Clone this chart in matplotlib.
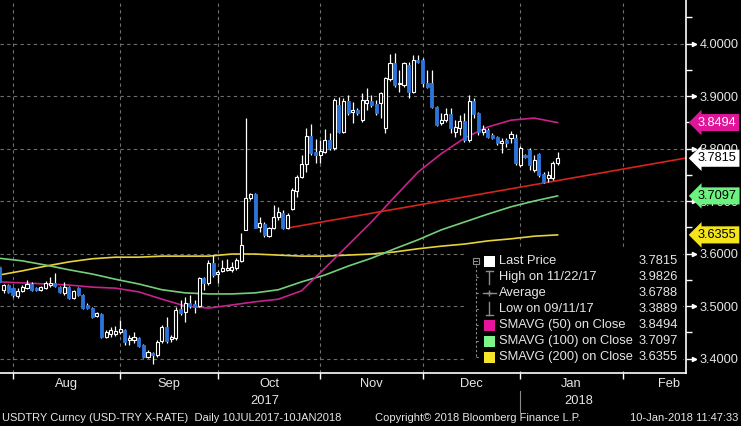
#!/usr/bin/env python3
"""USDTRY daily candles with SMAs, Bloomberg-style dark chart -> out.png"""

import numpy as np
import matplotlib
matplotlib.use("Agg")
import matplotlib.pyplot as plt
from matplotlib.patches import Rectangle
from matplotlib.lines import Line2D
from matplotlib.ticker import FormatStrFormatter, MultipleLocator
from matplotlib.transforms import blended_transform_factory

plt.rcParams["font.family"] = ["Liberation Sans", "DejaVu Sans"]

W, H = 741, 426

# daily OHLC, one entry per session
opens = [
    3.574, 3.531, 3.540, 3.534, 3.519, 3.529, 3.534, 3.542, 3.534, 3.531,
    3.534, 3.540, 3.544, 3.536, 3.525, 3.536, 3.515, 3.534, 3.521, 3.502,
    3.496, 3.481, 3.485, 3.441, 3.447, 3.447, 3.451, 3.454, 3.435, 3.435,
    3.439, 3.426, 3.403, 3.411, 3.407, 3.433, 3.460, 3.437, 3.439, 3.494,
    3.489, 3.506, 3.504, 3.500, 3.553, 3.544, 3.582, 3.561, 3.567, 3.569,
    3.569, 3.572, 3.586, 3.645, 3.706, 3.713, 3.651, 3.656, 3.633, 3.649,
    3.670, 3.677, 3.649, 3.685, 3.719, 3.746, 3.771, 3.824, 3.793, 3.788,
    3.793, 3.816, 3.801, 3.883, 3.832, 3.891, 3.870, 3.873, 3.854, 3.887,
    3.891, 3.885, 3.887, 3.839, 3.932, 3.963, 3.923, 3.921, 3.959, 3.908,
    3.969, 3.969, 3.925, 3.925, 3.879, 3.849, 3.854, 3.866, 3.832, 3.839,
    3.852, 3.816, 3.891, 3.868, 3.832, 3.835, 3.826, 3.822, 3.811, 3.816,
    3.820, 3.820, 3.769, 3.788, 3.797, 3.759, 3.790, 3.752, 3.744, 3.744,
    3.772,
]
highs = [
    3.578, 3.542, 3.542, 3.536, 3.534, 3.540, 3.550, 3.546, 3.536, 3.538,
    3.548, 3.555, 3.563, 3.538, 3.546, 3.538, 3.531, 3.536, 3.523, 3.506,
    3.498, 3.489, 3.487, 3.454, 3.460, 3.462, 3.473, 3.456, 3.445, 3.451,
    3.441, 3.428, 3.416, 3.412, 3.435, 3.464, 3.479, 3.445, 3.498, 3.512,
    3.517, 3.521, 3.512, 3.555, 3.555, 3.588, 3.597, 3.569, 3.588, 3.590,
    3.584, 3.592, 3.639, 3.858, 3.715, 3.715, 3.670, 3.660, 3.651, 3.692,
    3.689, 3.683, 3.677, 3.725, 3.750, 3.788, 3.839, 3.847, 3.818, 3.816,
    3.837, 3.830, 3.896, 3.898, 3.896, 3.902, 3.889, 3.877, 3.906, 3.915,
    3.902, 3.892, 3.908, 3.936, 3.980, 3.9826, 3.950, 3.965, 3.965, 3.978,
    3.978, 3.972, 3.950, 3.950, 3.881, 3.868, 3.877, 3.877, 3.854, 3.864,
    3.868, 3.902, 3.896, 3.870, 3.845, 3.839, 3.830, 3.824, 3.820, 3.820,
    3.833, 3.828, 3.805, 3.790, 3.801, 3.788, 3.792, 3.755, 3.757, 3.776,
    3.793,
]
lows = [
    3.542, 3.525, 3.525, 3.517, 3.515, 3.527, 3.532, 3.529, 3.529, 3.529,
    3.532, 3.536, 3.536, 3.525, 3.521, 3.513, 3.513, 3.519, 3.494, 3.494,
    3.477, 3.479, 3.439, 3.439, 3.441, 3.443, 3.447, 3.426, 3.426, 3.430,
    3.422, 3.401, 3.401, 3.3889, 3.403, 3.430, 3.430, 3.432, 3.435, 3.483,
    3.470, 3.496, 3.487, 3.498, 3.531, 3.540, 3.555, 3.544, 3.565, 3.567,
    3.565, 3.569, 3.584, 3.645, 3.702, 3.649, 3.641, 3.632, 3.632, 3.647,
    3.664, 3.647, 3.647, 3.683, 3.708, 3.744, 3.755, 3.788, 3.772, 3.772,
    3.792, 3.797, 3.797, 3.830, 3.830, 3.864, 3.849, 3.864, 3.851, 3.873,
    3.879, 3.864, 3.858, 3.830, 3.929, 3.917, 3.908, 3.917, 3.896, 3.906,
    3.963, 3.917, 3.915, 3.877, 3.843, 3.845, 3.851, 3.830, 3.822, 3.826,
    3.812, 3.812, 3.858, 3.826, 3.826, 3.820, 3.818, 3.807, 3.792, 3.803,
    3.811, 3.769, 3.765, 3.782, 3.759, 3.755, 3.746, 3.734, 3.736, 3.740,
    3.769,
]
closes = [
    3.546, 3.540, 3.527, 3.521, 3.529, 3.536, 3.542, 3.531, 3.531, 3.536,
    3.544, 3.544, 3.538, 3.527, 3.536, 3.515, 3.529, 3.521, 3.496, 3.496,
    3.479, 3.487, 3.441, 3.451, 3.454, 3.452, 3.456, 3.432, 3.439, 3.441,
    3.424, 3.403, 3.412, 3.407, 3.432, 3.460, 3.433, 3.441, 3.492, 3.487,
    3.506, 3.500, 3.498, 3.553, 3.544, 3.582, 3.559, 3.565, 3.572, 3.572,
    3.574, 3.588, 3.616, 3.706, 3.713, 3.649, 3.658, 3.635, 3.649, 3.670,
    3.679, 3.649, 3.673, 3.721, 3.746, 3.771, 3.824, 3.792, 3.788, 3.795,
    3.816, 3.801, 3.892, 3.832, 3.891, 3.868, 3.873, 3.868, 3.892, 3.892,
    3.883, 3.868, 3.906, 3.934, 3.963, 3.921, 3.925, 3.963, 3.908, 3.969,
    3.965, 3.925, 3.917, 3.879, 3.845, 3.854, 3.866, 3.839, 3.841, 3.852,
    3.816, 3.891, 3.866, 3.832, 3.837, 3.822, 3.820, 3.811, 3.814, 3.811,
    3.828, 3.772, 3.801, 3.784, 3.769, 3.778, 3.750, 3.736, 3.750, 3.772,
    3.7815,
]

# moving averages, read every 5 sessions
ma_idx = list(range(0, 121, 5))
sma50 = [3.546, 3.544, 3.542, 3.540, 3.536, 3.534, 3.527, 3.513, 3.500, 3.496,
         3.502, 3.508, 3.513, 3.529, 3.572, 3.616, 3.660, 3.708, 3.755, 3.790,
         3.820, 3.841, 3.854, 3.858, 3.8494]
sma100 = [3.591, 3.586, 3.578, 3.569, 3.561, 3.551, 3.542, 3.531, 3.525, 3.523,
          3.523, 3.525, 3.531, 3.546, 3.559, 3.576, 3.591, 3.609, 3.626, 3.645,
          3.660, 3.675, 3.689, 3.700, 3.7097]
sma200 = [3.559, 3.567, 3.576, 3.584, 3.590, 3.593, 3.593, 3.595, 3.595, 3.595,
          3.599, 3.599, 3.597, 3.595, 3.595, 3.597, 3.599, 3.603, 3.609, 3.614,
          3.618, 3.624, 3.628, 3.633, 3.6355]

# hand-drawn trend line (session index, price)
trend_idx = [62, 147.6]
trend_val = [3.6486, 3.7819]

# last session of each month (Jul .. Feb) and labels between them
month_ends = [3, 26, 47, 69, 91, 112, 134, 154]
month_labels = ["Aug", "Sep", "Oct", "Nov", "Dec", "Jan", "Feb"]
year_labels = ["2017", "2018"]
year_pos = [57, 124.5]

legend_names = ["Last Price", "High on 11/22/17", "Average", "Low on 09/11/17",
                "SMAVG (50) on Close", "SMAVG (100) on Close", "SMAVG (200) on Close"]
legend_values = [3.7815, 3.9826, 3.6788, 3.3889, 3.8494, 3.7097, 3.6355]

BLUE = "#2d74da"
MAGENTA = "#c8218c"
GREEN = "#74cf7c"
YELLOW = "#e6d23c"
RED = "#d8221c"
GRID = "#6e6e6e"
TXT = "#e6e6e6"


def fx(px):
    return px / W


def fy(py):
    return 1 - py / H


fig = plt.figure(figsize=(W / 100, H / 100), dpi=100, facecolor="black")
ax = fig.add_axes([0, fy(373), fx(686), 373 / H])
ax.set_facecolor("black")

# grid + axes (limits after the ticks, set_xticks would widen them)
ax.set_xticks(month_ends)
ax.set_yticks(np.arange(3.4, 4.001, 0.1))
ax.yaxis.set_minor_locator(MultipleLocator(0.05))
ax.yaxis.set_major_formatter(FormatStrFormatter("%.4f"))
ax.set_xlim(0.2, 147.6)
ax.set_ylim(3.3724, 4.0829)
ax.grid(True, which="major", color=GRID, linestyle=(0, (3, 3)), linewidth=0.8)
ax.set_axisbelow(True)
for s in ["top", "left"]:
    ax.spines[s].set_visible(False)
for s in ["right", "bottom"]:
    ax.spines[s].set_color("white")
    ax.spines[s].set_linewidth(1.2)
ax.yaxis.tick_right()
ax.tick_params(axis="y", which="major", colors="white", labelcolor=TXT,
               labelsize=9.2, length=7, width=1, pad=3)
ax.tick_params(axis="y", which="minor", colors="white", length=4, width=1)
ax.tick_params(axis="x", colors="white", length=4, width=1, labelbottom=False)

# little arrow heads on the price ticks
tr_tick = blended_transform_factory(ax.transAxes, ax.transData)
yt = np.arange(3.4, 4.001, 0.1)
ax.plot(np.full(len(yt), 1 + 8 / 686), yt, ">", color="white", markersize=3,
        transform=tr_tick, clip_on=False, zorder=2)

# moving averages + trend
ax.plot(ma_idx, sma200, color=YELLOW, lw=1.2, zorder=2)
ax.plot(ma_idx, sma100, color=GREEN, lw=1.2, zorder=2)
ax.plot(ma_idx, sma50, color=MAGENTA, lw=1.2, zorder=2)
ax.plot(trend_idx, trend_val, color=RED, lw=1.2, zorder=2)

# candles
o, h, l, c = map(np.array, (opens, highs, lows, closes))
x = np.arange(len(o))
ax.vlines(x, l, h, colors="white", linewidth=0.9, zorder=3)
bw = 0.66
for xi, oi, ci in zip(x, o, c):
    if ci >= oi:
        ax.add_patch(Rectangle((xi - bw / 2, oi), bw, max(ci - oi, 0.0008),
                               facecolor="black", edgecolor="white", lw=0.8, zorder=4))
    else:
        ax.add_patch(Rectangle((xi - bw / 2, ci), bw, oi - ci,
                               facecolor=BLUE, edgecolor=BLUE, lw=0.6, zorder=4))

# value tags on the right axis
tag_bg = ["#e0169a", "white", "#6cf27e", "#f4e41c"]
tag_fg = ["white", "black", "black", "black"]
tag_vals = [legend_values[4], legend_values[0], legend_values[5], legend_values[6]]
for v, bg, fg in zip(tag_vals, tag_bg, tag_fg):
    ax.text(1 + 12 / 686, v, f"{v:.4f}", transform=tr_tick, ha="left", va="center",
            fontsize=9.2, color=fg, clip_on=False, zorder=10,
            bbox=dict(boxstyle="larrow,pad=0.2", fc=bg, ec="none"))

# month / year labels
tr_lab = blended_transform_factory(ax.transData, fig.transFigure)
for i, name in enumerate(month_labels):
    mid = (month_ends[i] + month_ends[i + 1]) / 2
    ax.text(mid, fy(384), name, transform=tr_lab, ha="center", va="center",
            fontsize=9.3, color=TXT, clip_on=False)
for name, pos in zip(year_labels, year_pos):
    ax.text(pos, fy(401), name, transform=tr_lab, ha="center", va="center",
            fontsize=9.3, color=TXT, clip_on=False)
ax.plot([month_ends[5], month_ends[5]], [fy(391), fy(412)], color="#8a8a8a",
        lw=0.8, transform=tr_lab, clip_on=False)

# footer
fig.text(fx(2), fy(418), "USDTRY Curncy (USD-TRY X-RATE)  Daily 10JUL2017-10JAN2018",
         ha="left", va="center", fontsize=8, color=TXT)
fig.text(fx(375), fy(418), "Copyright\u00a9 2018 Bloomberg Finance L.P.",
         ha="left", va="center", fontsize=8, color=TXT)
fig.text(fx(738), fy(418), "10-Jan-2018 11:47:33",
         ha="right", va="center", fontsize=8, color=TXT)

# legend panel
fig.add_artist(Rectangle((fx(467), fy(371)), fx(683) - fx(467), fy(249) - fy(371),
                         transform=fig.transFigure, facecolor="black",
                         edgecolor="none", zorder=5))
row_y = [261, 277, 293, 309, 325, 341, 357]
tree = "#8c8c8c"


def fline(xs, ys, color, lw=1.0, ls="-"):
    fig.add_artist(Line2D([fx(v) for v in xs], [fy(v) for v in ys], color=color,
                          lw=lw, ls=ls, transform=fig.transFigure, zorder=6))


def fsquare(x0, y0, size, color):
    fig.add_artist(Rectangle((fx(x0), fy(y0 + size)), size / W, size / H,
                             transform=fig.transFigure, facecolor=color,
                             edgecolor="none", zorder=6))


# collapse box + tree lines
fig.add_artist(Rectangle((fx(472.5), fy(264)), 6 / W, 6 / H, transform=fig.transFigure,
                         facecolor="none", edgecolor=tree, lw=0.8, zorder=6))
fline([473.8, 477.4], [261, 261], tree, 0.8)
fline([475.6, 475.6], [265, row_y[-1]], tree, 0.8, (0, (2, 2)))
for ry in row_y[1:]:
    fline([475.6, 480], [ry, ry], tree, 0.8, (0, (2, 2)))

# symbols
fsquare(484, row_y[0] - 5.5, 11, "white")
fline([489.5, 489.5], [row_y[1] - 6, row_y[1] + 7], tree)
fline([486, 493], [row_y[1] - 6, row_y[1] - 6], tree)
fline([483, 496], [row_y[2], row_y[2]], tree)
fig.add_artist(Line2D([fx(489.5)], [fy(row_y[2])], marker="+", markersize=4,
                      color=tree, transform=fig.transFigure, zorder=6))
fline([489.5, 489.5], [row_y[3] - 7, row_y[3] + 6], tree)
fline([486, 493], [row_y[3] + 6, row_y[3] + 6], tree)
for ry, col in zip(row_y[4:], ["#e6159b", "#7ef58a", "#f5e52a"]):
    fsquare(484, ry - 5.5, 11, col)

for ry, name, val in zip(row_y, legend_names, legend_values):
    fig.text(fx(499), fy(ry), name, ha="left", va="center", fontsize=9.3,
             color=TXT, zorder=7)
    fig.text(fx(678), fy(ry), f"{val:.4f}", ha="right", va="center", fontsize=9.3,
             color=TXT, zorder=7)

fig.savefig("out.png", dpi=100, facecolor="black")
